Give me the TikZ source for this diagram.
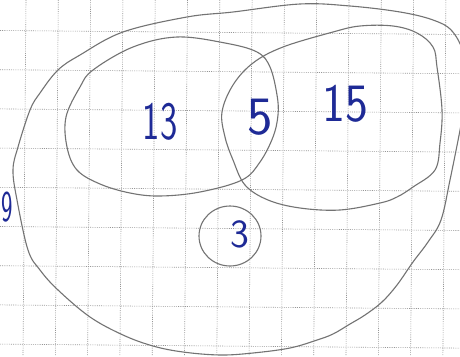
\documentclass[tikz,border=0pt]{standalone}
\usepackage{tikz}
\definecolor{pencil}{RGB}{115,115,115}
\definecolor{ink}{RGB}{30,42,150}
\definecolor{gridc}{RGB}{150,150,150}
\begin{document}
\begin{tikzpicture}[x=1pt,y=-1pt,
  setline/.style={draw=pencil,line width=1.1pt,line join=round,line cap=round},
  gridline/.style={draw=gridc,line width=0.6pt,dash pattern=on 1pt off 1.2pt},
  digit/.style={text=ink,font=\sffamily\fontsize{54}{54}\selectfont,inner sep=0pt,anchor=center}]
\useasboundingbox (0,0) rectangle (460,356);
\fill[white] (0,0) rectangle (460,356);
\clip (0,0) rectangle (460,356);
% grid paper
\foreach \k in {0,...,13}{
  \draw[gridline] ({26+32.3*\k},0) -- ({26+32.3*\k-3},356);
}
\foreach \k in {0,...,8}{
  \draw[gridline] (0,{30.5+39.2*\k}) -- (460,{34.5+39.2*\k});
}
% outer set (universe)
\draw[setline] plot[smooth cycle,tension=0.6] coordinates {
  (300,4) (350,6) (400,12) (433,20) (452,31) (464,55) (467,90) (461,125)
  (450,180) (441,220) (428,242) (413,262) (397,285) (382,302) (365,315)
  (350,324) (333,334) (317,340) (290,348) (253,353) (220,355) (183,352)
  (153,346) (123,335) (90,317) (58,290) (40,270) (28,250) (17,200) (13,170)
  (18,147) (30,110) (40,93) (58,70) (80,55) (123,32) (187,17) (233,12)};
% left set (13)
\draw[setline] plot[smooth cycle,tension=0.6] coordinates {
  (177,37) (225,43) (257,52) (270,67) (277,95) (278,115) (273,137) (260,162)
  (242,180) (200,192) (160,196) (130,193) (100,184) (77,170) (67,147)
  (66,117) (80,87) (93,70) (133,47)};
% right set (15)
\draw[setline] plot[smooth cycle,tension=0.6] coordinates {
  (283,47) (333,32) (360,26) (393,26) (417,33) (433,47) (437,67) (442,110)
  (440,143) (435,170) (413,187) (397,197) (380,203) (340,210) (300,208)
  (268,200) (245,185) (233,160) (225,137) (222,112) (233,85) (253,63)};
% small set (3)
\draw[setline] (230,236) ellipse [x radius=31, y radius=30];
% labels
\node[digit,xscale=0.68] (n13) at (160,122) {13};
\node[digit,xscale=1.0] (n5) at (260,117) {5};
\node[digit,xscale=0.9] (n15) at (345,104) {15};
\node[digit,font=\sffamily\fontsize{40}{40}\selectfont] (n3) at (240,234) {3};
\node[digit,font=\sffamily\fontsize{44}{44}\selectfont,xscale=0.55,anchor=west] (n9) at (1,207) {9};
\end{tikzpicture}
\end{document}
